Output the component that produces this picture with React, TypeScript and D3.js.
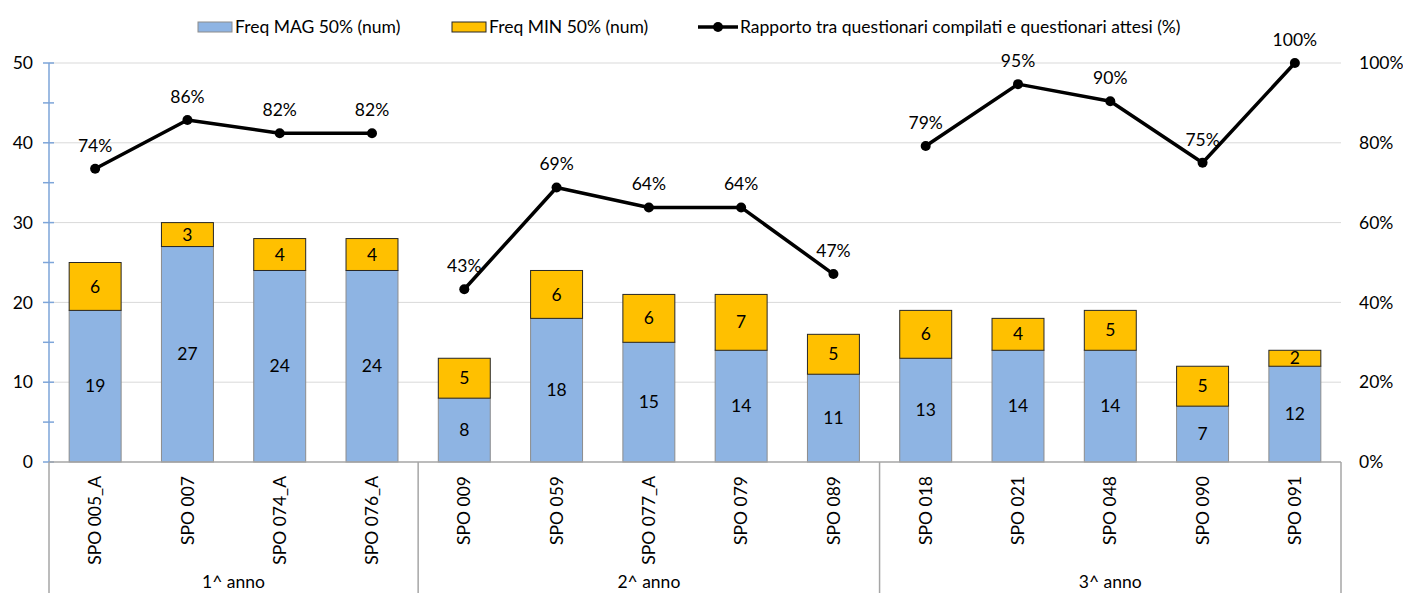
import { useEffect, useRef } from 'react'
import * as d3 from 'd3'

const CATEGORIES = ['SPO 005_A', 'SPO 007', 'SPO 074_A', 'SPO 076_A', 'SPO 009', 'SPO 059', 'SPO 077_A', 'SPO 079', 'SPO 089', 'SPO 018', 'SPO 021', 'SPO 048', 'SPO 090', 'SPO 091']
const GROUP_OF = [0, 0, 0, 0, 1, 1, 1, 1, 1, 2, 2, 2, 2, 2]
const GROUPS = ['1^ anno', '2^ anno', '3^ anno']
const MAG = [19, 27, 24, 24, 8, 18, 15, 14, 11, 13, 14, 14, 7, 12]
const MIN = [6, 3, 4, 4, 5, 6, 6, 7, 5, 6, 4, 5, 5, 2]
const RATIO = [73.5, 85.7, 82.4, 82.4, 43.3, 68.8, 63.8, 63.8, 47.1, 79.2, 94.7, 90.4, 75, 100]
const LEFT_TICKS = [0, 10, 20, 30, 40, 50]
const RIGHT_TICKS = [0, 20, 40, 60, 80, 100]
const SERIES = ['Freq MAG 50% (num)', 'Freq MIN 50% (num)', 'Rapporto tra questionari compilati e questionari attesi (%)']

const W = 1403, H = 593
const FONT = 'Lato, Carlito, Calibri, sans-serif'
const FS = 17.5
const BLUE = '#8EB4E3', ORANGE = '#FFC000'

export default function App() {
  const svgRef = useRef<SVGSVGElement>(null)

  useEffect(() => {
    if (!svgRef.current) return
    const svg = d3.select(svgRef.current)
    svg.selectAll('*').remove()

    const left = 49, right = 1341, top = 63, bottom = 462
    const x = d3.scaleBand<string>().domain(CATEGORIES).range([left, right]).paddingInner(0.437).paddingOuter(0.2185)
    const y = d3.scaleLinear().domain([0, 50]).range([bottom, top])
    const yr = d3.scaleLinear().domain([0, 100]).range([bottom, top])
    const cx = (c: string) => (x(c) ?? 0) + x.bandwidth() / 2
    const step = x.step()

    const g = svg.append('g').attr('font-family', FONT)

    // gridlines
    LEFT_TICKS.filter(t => t > 0).forEach(t => {
      g.append('line').attr('x1', left).attr('x2', right).attr('y1', y(t)).attr('y2', y(t))
        .attr('stroke', '#D9D9D9').attr('stroke-width', 1)
    })

    // bars
    CATEGORIES.forEach((c, i) => {
      const bx = x(c) ?? 0
      g.append('rect').attr('x', bx).attr('width', x.bandwidth())
        .attr('y', y(MAG[i])).attr('height', y(0) - y(MAG[i]))
        .attr('fill', BLUE).attr('stroke', '#8C8C8C').attr('stroke-width', 1)
      g.append('rect').attr('x', bx).attr('width', x.bandwidth())
        .attr('y', y(MAG[i] + MIN[i])).attr('height', y(MAG[i]) - y(MAG[i] + MIN[i]))
        .attr('fill', ORANGE).attr('stroke', '#262626').attr('stroke-width', 1)
      g.append('text').attr('x', cx(c)).attr('y', (y(0) + y(MAG[i])) / 2).attr('dy', '0.35em')
        .attr('text-anchor', 'middle').attr('font-size', FS).attr('fill', '#000').text(MAG[i])
      g.append('text').attr('x', cx(c)).attr('y', (y(MAG[i]) + y(MAG[i] + MIN[i])) / 2).attr('dy', '0.35em')
        .attr('text-anchor', 'middle').attr('font-size', FS).attr('fill', '#000').text(MIN[i])
    })

    // left axis
    g.append('line').attr('x1', left).attr('x2', left).attr('y1', top).attr('y2', bottom)
      .attr('stroke', '#7DA5D9').attr('stroke-width', 1.5)
    d3.range(0, 51, 5).forEach(t => {
      g.append('line').attr('x1', left - 6).attr('x2', left + 5).attr('y1', y(t)).attr('y2', y(t))
        .attr('stroke', '#7DA5D9').attr('stroke-width', 1.5)
    })
    LEFT_TICKS.forEach(t => {
      g.append('text').attr('x', 33).attr('y', y(t)).attr('dy', '0.35em')
        .attr('text-anchor', 'end').attr('font-size', FS).attr('fill', '#000').text(t)
    })
    RIGHT_TICKS.forEach(t => {
      g.append('text').attr('x', 1359).attr('y', yr(t)).attr('dy', '0.35em')
        .attr('text-anchor', 'start').attr('font-size', FS).attr('fill', '#000').text(`${t}%`)
    })

    // category axis
    g.append('line').attr('x1', left).attr('x2', right).attr('y1', bottom).attr('y2', bottom)
      .attr('stroke', '#A6A6A6').attr('stroke-width', 1.5)
    const bounds = [0, 4, 9, 14]
    bounds.forEach(b => {
      const bxp = left + b * step
      g.append('line').attr('x1', bxp).attr('x2', bxp).attr('y1', bottom).attr('y2', H)
        .attr('stroke', '#A6A6A6').attr('stroke-width', 1.5)
    })
    CATEGORIES.forEach(c => {
      g.append('text').attr('transform', `translate(${cx(c)},476) rotate(-90)`)
        .attr('dy', '0.35em').attr('text-anchor', 'end').attr('font-size', FS).attr('fill', '#000').text(c)
    })
    GROUPS.forEach((name, gi) => {
      const mid = left + (bounds[gi] + bounds[gi + 1]) / 2 * step
      g.append('text').attr('x', mid).attr('y', 588).attr('text-anchor', 'middle')
        .attr('font-size', FS).attr('fill', '#000').text(name)
    })

    // ratio line, one segment per year group
    const line = d3.line<number>().x(i => cx(CATEGORIES[i])).y(i => yr(RATIO[i]))
    GROUPS.forEach((_, gi) => {
      const idx = CATEGORIES.map((_, i) => i).filter(i => GROUP_OF[i] === gi)
      g.append('path').attr('d', line(idx) ?? '').attr('fill', 'none')
        .attr('stroke', '#000').attr('stroke-width', 3.5).attr('stroke-linejoin', 'round')
    })
    CATEGORIES.forEach((c, i) => {
      g.append('circle').attr('cx', cx(c)).attr('cy', yr(RATIO[i])).attr('r', 5).attr('fill', '#000')
      g.append('text').attr('x', cx(c)).attr('y', yr(RATIO[i]) - 17).attr('text-anchor', 'middle')
        .attr('font-size', FS).attr('fill', '#000').text(`${Math.round(RATIO[i])}%`)
    })

    // legend
    const ly = 27
    g.append('rect').attr('x', 198).attr('y', ly - 5).attr('width', 34).attr('height', 10)
      .attr('fill', BLUE).attr('stroke', '#8C8C8C')
    g.append('text').attr('x', 235).attr('y', ly).attr('dy', '0.35em').attr('font-size', FS).text(SERIES[0])
    g.append('rect').attr('x', 452).attr('y', ly - 5).attr('width', 34).attr('height', 10)
      .attr('fill', ORANGE).attr('stroke', '#262626')
    g.append('text').attr('x', 489).attr('y', ly).attr('dy', '0.35em').attr('font-size', FS).text(SERIES[1])
    g.append('line').attr('x1', 698).attr('x2', 738).attr('y1', ly).attr('y2', ly)
      .attr('stroke', '#000').attr('stroke-width', 3.5)
    g.append('circle').attr('cx', 718).attr('cy', ly).attr('r', 5).attr('fill', '#000')
    g.append('text').attr('x', 740).attr('y', ly).attr('dy', '0.35em').attr('font-size', FS).text(SERIES[2])
  }, [])

  return (
    <svg ref={svgRef} width={W} height={H} viewBox={`0 0 ${W} ${H}`}
      style={{ position: 'absolute', left: 0, top: 0, background: '#fff', display: 'block' }} />
  )
}
